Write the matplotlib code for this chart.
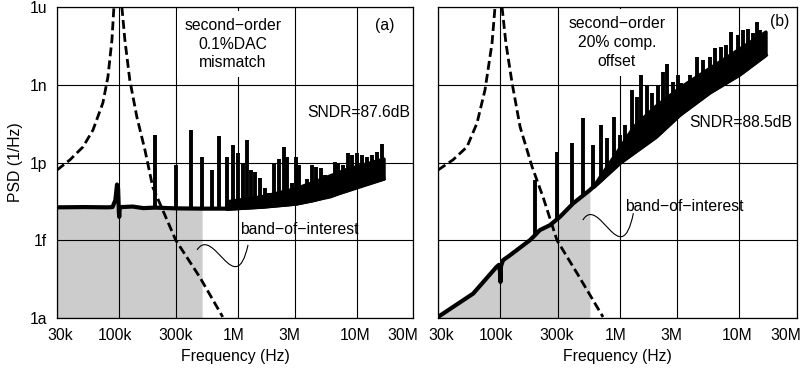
import numpy as np
import matplotlib.pyplot as plt
import matplotlib.transforms as mtransforms
from matplotlib.path import Path
from matplotlib.patches import PathPatch

plt.rcParams['font.family'] = ['Liberation Sans', 'DejaVu Sans']
plt.rcParams['font.size'] = 11.3

# axis ticks
xticks = [30e3, 100e3, 300e3, 1e6, 3e6, 10e6, 30e6]
xlabels = ['30k', '100k', '300k', '1M', '3M', '10M', '30M']
yticks = [1e-18, 1e-15, 1e-12, 1e-9, 1e-6]
ylabels = ['1a', '1f', '1p', '1n', '1u']

# ---- panel (a): 0.1% DAC mismatch (log10 PSD values) ----
a_floor_f = [30e3, 50e3, 80e3, 88e3, 93e3, 96e3, 98e3, 99.5e3, 100.2e3, 101e3, 104e3, 130e3,
             160e3, 200e3, 300e3, 500e3, 860e3, 1.63e6, 3.15e6, 5.97e6, 10.1e6, 16.8e6]
a_floor = [-13.73, -13.72, -13.73, -13.72, -13.45, -12.85, -13.0, -13.9, -14.1, -13.8, -13.72, -13.70,
           -13.76, -13.74, -13.77, -13.78, -13.78, -13.70, -13.58, -13.31, -12.93, -12.62]
a_body_f = [0.8e6, 1.6e6, 3.0e6, 4.3e6, 8.2e6, 16.8e6]
a_body = [-13.5, -13.3, -13.0, -12.75, -12.25, -11.85]
a_spur_f = [201e3, 302e3, 401e3, 502e3, 606e3, 698e3, 807e3, 906e3, 1.01e6, 1.11e6, 1.2e6, 1.28e6,
            1.40e6, 1.54e6, 1.69e6, 1.84e6, 2.02e6, 2.22e6, 2.42e6, 2.61e6, 2.84e6, 3.07e6, 3.27e6,
            3.80e6, 4.19e6, 4.55e6, 4.99e6, 5.42e6, 5.97e6, 6.58e6, 7.02e6, 7.73e6, 8.51e6, 9.10e6,
            10.0e6, 11.0e6, 12.2e6, 13.4e6, 14.8e6, 16.3e6]
a_spur = [-10.95, -12.10, -10.73, -11.78, -12.30, -10.98, -11.78, -11.31, -11.64, -12.03, -11.14, -12.30,
          -12.36, -12.61, -12.99, -13.19, -12.03, -11.85, -11.40, -11.78, -12.81, -11.78, -12.10,
          -12.62, -12.10, -12.17, -12.23, -12.49, -12.62, -11.98, -12.04, -12.10, -11.65, -11.72,
          -11.65, -11.72, -11.78, -11.72, -11.59, -11.27]
a_ntf_left_f = [30e3, 38.5e3, 49.6e3, 60.2e3, 73e3, 80.5e3, 87e3, 90.4e3]
a_ntf_left = [-12.29, -11.90, -11.40, -10.75, -9.70, -8.70, -7.27, -6.0]
a_ntf_right_f = [105.5e3, 111.8e3, 123e3, 141e3, 165e3, 192e3, 300e3, 477e3, 745e3]
a_ntf_right = [-6.0, -7.27, -8.82, -10.24, -11.52, -12.95, -15.0, -16.42, -17.96]
a_band = 500e3

# ---- panel (b): 20% comparator offset ----
b_floor_f = [30e3, 59e3, 92.6e3, 97e3, 99e3, 100e3, 101e3, 105e3, 120e3, 176e3, 194e3, 213e3,
             259e3, 314e3, 405e3, 558e3, 1.0e6, 2.0e6, 3.16e6, 5.6e6, 10e6, 16.5e6]
b_floor = [-17.96, -17.06, -16.03, -15.95, -16.2, -16.61, -16.0, -15.77, -15.58, -15.0, -14.81, -14.61,
           -14.42, -14.10, -13.58, -13.07, -12.0, -11.0, -10.15, -9.3, -8.6, -7.85]
b_body_f = [0.6e6, 1.0e6, 1.3e6, 2.0e6, 3.16e6, 5.6e6, 10e6, 16.5e6]
b_body = [-12.9, -11.4, -10.6, -9.8, -9.1, -8.35, -7.6, -6.95]
b_spur_f = [196e3, 298e3, 399e3, 495e3, 596e3, 688e3, 778e3, 888e3, 996e3, 1.11e6, 1.27e6, 1.39e6,
            1.49e6, 1.69e6, 1.87e6, 2.08e6, 2.27e6, 2.46e6, 2.78e6, 3.06e6, 3.27e6, 3.84e6, 4.37e6,
            4.96e6, 5.64e6, 6.21e6, 7.07e6, 7.78e6, 8.57e6, 9.73e6, 10.7e6, 11.8e6, 13.0e6, 13.9e6,
            14.8e6, 16.0e6]
b_spur = [-12.68, -11.59, -11.25, -10.30, -11.33, -10.54, -11.04, -10.24, -10.93, -10.56, -9.21, -9.49,
          -8.63, -9.05, -9.31, -9.02, -8.50, -8.21, -8.89, -8.63, -8.95, -8.63, -7.92,
          -8.05, -7.92, -7.60, -7.54, -7.47, -6.96, -7.09, -6.90, -6.83, -7.02, -6.57,
          -6.90, -7.02]
b_ntf_left_f = [30e3, 40e3, 52.4e3, 63.6e3, 74.2e3, 85e3, 90e3]
b_ntf_left = [-12.29, -11.90, -11.40, -10.48, -9.20, -7.39, -6.0]
b_ntf_right_f = [103e3, 111e3, 125e3, 146e3, 184e3, 227e3, 297e3, 437e3, 721e3]
b_ntf_right = [-6.0, -7.39, -8.93, -10.63, -12.17, -13.33, -15.0, -16.27, -17.96]
b_band = 560e3

# tick label nudges in pixels (labels sit slightly off their grid lines)
xlabel_dx = [3, -4.5, -0.5, -4, -5.5, -2, -10.5]


def interp_log(f, xs, ys):
    return np.interp(np.log10(f), np.log10(xs), ys)


def draw_panel(ax, floor_f, floor, body_f, body, spur_f, spur, nl_f, nl, nr_f, nr, band):
    floor_f = np.array(floor_f)
    floor = np.array(floor)
    # band of interest shading
    m = floor_f < band
    ff = np.append(floor_f[m], band)
    fv = np.append(floor[m], interp_log(band, floor_f, floor))
    ax.fill_between(ff, 1e-18, 10 ** fv, color='#cccccc', lw=0, zorder=0.2)
    # NTF dashed
    ax.plot(nl_f, 10 ** np.array(nl), color='k', lw=2.0, ls=(0, (3.2, 1.5)), zorder=2)
    ax.plot(nr_f, 10 ** np.array(nr), color='k', lw=2.0, ls=(0, (3.2, 1.5)), zorder=2)
    # dense noise body
    bf = np.array(body_f)
    ax.fill_between(bf, 10 ** interp_log(bf, floor_f, floor), 10 ** np.array(body),
                    color='k', lw=2.5, edgecolor='k', zorder=2)
    # spurs
    sf = np.array(spur_f)
    ax.vlines(sf, 10 ** interp_log(sf, floor_f, floor), 10 ** np.array(spur),
              color='k', lw=2.8, zorder=2)
    ax.plot(floor_f, 10 ** floor, color='k', lw=3.0, zorder=2.1, solid_joinstyle='round')

    ax.set_xscale('log')
    ax.set_yscale('log')
    ax.set_xlim(30e3, 30e6)
    ax.set_ylim(1e-18, 1e-6)
    ax.set_xticks(xticks)
    ax.set_xticklabels(xlabels)
    ax.set_yticks(yticks)
    ax.minorticks_off()
    ax.tick_params(length=0, pad=7)
    ax.set_axisbelow(True)
    ax.grid(True, color='k', lw=0.8)
    for s in ax.spines.values():
        s.set_linewidth(0.9)
    for lab, dx in zip(ax.get_xticklabels(), xlabel_dx):
        lab.set_transform(lab.get_transform() +
                          mtransforms.ScaledTranslation(dx / 100, 0, ax.figure.dpi_scale_trans))
    ax.set_xlabel('Frequency (Hz)')
    ax.xaxis.set_label_coords(0.5, -0.1)


def squiggle(ax, p0, p1, p2, p3):
    path = Path([p0, p1, p2, p3], [Path.MOVETO, Path.CURVE4, Path.CURVE4, Path.CURVE4])
    ax.add_patch(PathPatch(path, transform=ax.transAxes, fill=False, lw=0.8, ec='k', zorder=3))


fig = plt.figure(figsize=(8.08, 3.74), dpi=100)
ax_a = fig.add_axes([57 / 808, 56 / 374, 356.4 / 808, 311 / 374])
ax_b = fig.add_axes([438 / 808, 56 / 374, 358.5 / 808, 311 / 374])

draw_panel(ax_a, a_floor_f, a_floor, a_body_f, a_body, a_spur_f, a_spur,
           a_ntf_left_f, a_ntf_left, a_ntf_right_f, a_ntf_right, a_band)
draw_panel(ax_b, b_floor_f, b_floor, b_body_f, b_body, b_spur_f, b_spur,
           b_ntf_left_f, b_ntf_left, b_ntf_right_f, b_ntf_right, b_band)

ax_a.set_yticklabels(ylabels)
ax_a.set_ylabel('PSD (1/Hz)')
ax_a.yaxis.set_label_coords(-0.095, 0.5)
ax_b.set_yticklabels([])

box = dict(boxstyle='square,pad=0.45', fc='white', ec='none')
ax_a.text(0.494, 0.881, 'second\u2212order\n0.1%DAC\nmismatch', transform=ax_a.transAxes,
          ha='center', va='center', linespacing=1.3, bbox=box, zorder=1.5)
ax_a.text(0.920, 0.942, '(a)', transform=ax_a.transAxes, ha='center', va='center')
ax_a.text(0.846, 0.662, 'SNDR=87.6dB', transform=ax_a.transAxes, ha='center', va='center')
ax_a.text(0.679, 0.283, 'band\u2212of\u2212interest', transform=ax_a.transAxes, ha='center', va='center')
squiggle(ax_a, (0.393, 0.219), (0.44, 0.30), (0.50, 0.05), (0.536, 0.235))

ax_b.text(0.499, 0.886, 'second\u2212order\n20% comp.\noffset', transform=ax_b.transAxes,
          ha='center', va='center', linespacing=1.3, bbox=box, zorder=1.5)
ax_b.text(0.954, 0.952, '(b)', transform=ax_b.transAxes, ha='center', va='center')
ax_b.text(0.844, 0.630, 'SNDR=88.5dB', transform=ax_b.transAxes, ha='center', va='center')
ax_b.text(0.688, 0.357, 'band\u2212of\u2212interest', transform=ax_b.transAxes, ha='center', va='center')
squiggle(ax_b, (0.404, 0.315), (0.45, 0.40), (0.51, 0.14), (0.545, 0.337))

fig.savefig('out.png', dpi=100)
